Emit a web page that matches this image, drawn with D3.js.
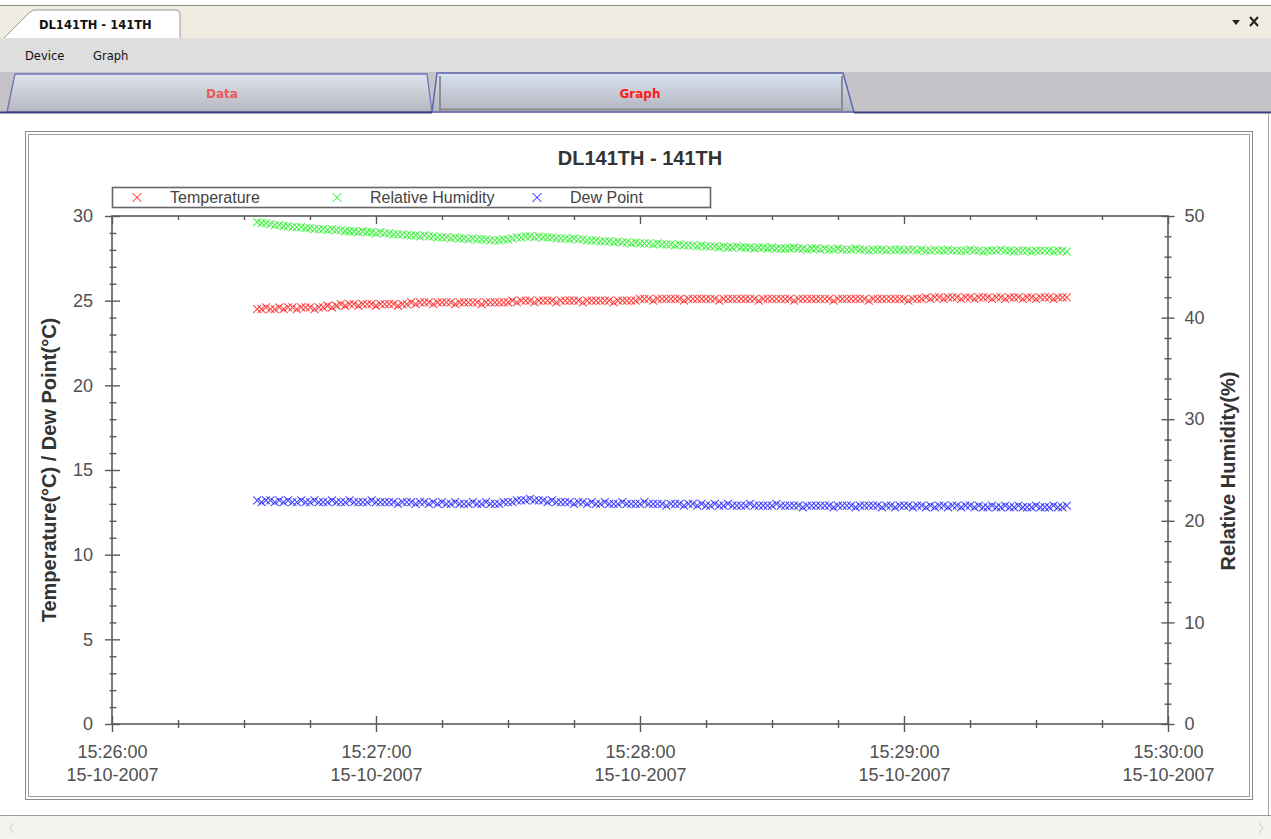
<!DOCTYPE html>
<html><head><meta charset="utf-8">
<script src="https://cdn.jsdelivr.net/npm/d3@7"></script>
<style>html,body{margin:0;padding:0;background:#fff;overflow:hidden}</style>
</head><body><svg id="c" width="1271" height="839"></svg>
<script>
// ---------------- data ----------------
const chartTitle = "DL141TH - 141TH";
const seriesNames = ["Temperature", "Relative Humidity", "Dew Point"];
const seriesColors = ["#ff1010", "#18ec18", "#1010ff"];
const leftAxisTitle = "Temperature(\u00B0C) / Dew Point(\u00B0C)";
const rightAxisTitle = "Relative Humidity(%)";
const leftTicks = [0, 5, 10, 15, 20, 25, 30];
const rightTicks = [0, 10, 20, 30, 40, 50];
const xTickTimes = ["15:26:00", "15:27:00", "15:28:00", "15:29:00", "15:30:00"];
const logDate = "15-10-2007";
const firstSample = "15:26:33";   // one reading per second
// Temperature (°C), 15:26:33 .. 15:29:37
const temperature = [
 24.5,24.5,24.6,24.5,24.5,24.6,24.5,24.6,24.6,24.5,24.6,24.6,24.6,24.5,24.6,24.6,24.7,24.6,
 24.7,24.8,24.7,24.8,24.8,24.7,24.8,24.8,24.8,24.7,24.8,24.8,24.8,24.8,24.7,24.8,24.8,
 24.9,24.8,24.9,24.9,24.9,24.8,24.9,24.9,24.9,24.9,24.8,24.9,24.9,24.9,24.9,24.9,24.8,24.9,24.9,24.9,24.9,24.9,24.9,
 25.0,24.9,25.0,25.0,25.0,24.9,25.0,25.0,25.0,25.0,24.9,25.0,25.0,25.0,25.0,25.0,24.9,25.0,25.0,25.0,25.0,25.0,25.0,24.9,25.0,25.0,25.0,25.0,25.0,
 25.1,25.1,25.1,25.0,25.1,25.1,25.1,25.1,25.1,25.1,
 25.0,25.1,25.1,25.1,25.1,25.1,25.1,25.1,25.0,25.1,
 25.1,25.1,25.1,25.1,25.1,25.1,25.1,25.0,25.1,25.1,
 25.1,25.1,25.1,25.1,25.1,25.0,25.1,25.1,25.1,25.1,
 25.1,25.1,25.1,25.1,25.0,25.1,25.1,25.1,25.1,25.1,
 25.1,25.1,25.0,25.1,25.1,25.1,25.1,25.1,25.1,25.1,
 25.1,25.0,25.1,25.1,25.1,
 25.2,25.1,25.2,25.2,25.1,25.2,25.2,25.2,25.1,25.2,25.2,25.1,25.2,25.2,25.2,25.1,25.2,
 25.2,25.1,25.2,25.2,25.2,25.1,25.2,25.2,25.1,25.2,25.2,25.2,25.1,25.2,25.2,25.2
];
// Relative humidity (%)
const humidity = [
 49.4,49.3,49.3,49.2,49.1,49.1,49.0,49.0,48.9,48.9,
 48.9,48.8,48.8,48.7,48.7,48.7,48.6,48.7,48.6,48.6,
 48.5,48.5,48.5,48.4,48.5,48.4,48.4,48.3,48.4,48.3,
 48.3,48.2,48.2,48.2,48.1,48.1,48.1,48.0,48.1,48.0,
 48.0,47.9,47.9,47.9,47.8,47.9,47.8,47.8,47.7,47.8,
 47.7,47.7,47.7,47.6,47.6,47.6,47.7,47.7,47.8,47.9,
 47.9,48.0,48.0,47.9,48.0,47.9,47.9,47.9,47.8,47.8,
 47.8,47.7,47.8,47.7,47.7,47.6,47.6,47.6,47.5,47.5,
 47.5,47.4,47.5,47.4,47.4,47.3,47.4,47.3,47.3,47.3,
 47.2,47.3,47.2,47.2,47.2,47.1,47.2,47.1,47.1,47.1,
 47.0,47.1,47.0,47.0,47.0,46.9,47.0,46.9,46.9,47.0,
 46.9,46.9,46.9,46.8,46.9,46.9,46.8,46.9,46.8,46.8,
 46.8,46.8,46.9,46.8,46.8,46.7,46.8,46.8,46.7,46.8,
 46.7,46.7,46.8,46.7,46.7,46.7,46.8,46.7,46.7,46.6,
 46.7,46.7,46.7,46.6,46.7,46.7,46.7,46.6,46.7,46.7,
 46.6,46.7,46.6,46.6,46.7,46.6,46.6,46.7,46.6,46.6,
 46.6,46.6,46.7,46.6,46.6,46.5,46.6,46.6,46.6,46.7,
 46.6,46.6,46.5,46.6,46.6,46.6,46.5,46.6,46.6,46.6,
 46.6,46.5,46.6,46.6,46.5
];
// Dew point (°C)
const dewPoint = [
 13.2,13.1,13.2,13.2,13.1,13.2,13.1,13.2,13.1,13.1,
 13.2,13.1,13.1,13.2,13.1,13.1,13.1,13.2,13.1,13.1,
 13.1,13.2,13.1,13.1,13.1,13.1,13.2,13.1,13.1,13.1,
 13.1,13.1,13.0,13.1,13.1,13.1,13.0,13.1,13.1,13.0,
 13.1,13.0,13.1,13.0,13.0,13.1,13.0,13.0,13.0,13.1,
 13.0,13.0,13.1,13.0,13.0,13.0,13.1,13.1,13.1,13.2,
 13.2,13.2,13.3,13.2,13.2,13.2,13.1,13.2,13.1,13.1,
 13.1,13.1,13.0,13.1,13.1,13.0,13.1,13.0,13.0,13.1,
 13.0,13.0,13.0,13.1,13.0,13.0,13.0,13.0,13.1,13.0,
 13.0,13.0,13.0,12.9,13.0,13.0,13.0,12.9,13.0,13.0,
 12.9,13.0,12.9,12.9,13.0,12.9,12.9,13.0,12.9,12.9,
 12.9,12.9,13.0,12.9,12.9,12.9,12.9,12.9,13.0,12.9,
 12.9,12.9,12.9,12.9,12.8,12.9,12.9,12.9,12.9,12.9,
 12.9,12.8,12.9,12.9,12.9,12.9,12.8,12.9,12.9,12.9,
 12.9,12.9,12.8,12.9,12.9,12.8,12.9,12.9,12.9,12.8,
 12.9,12.9,12.8,12.9,12.8,12.9,12.9,12.8,12.9,12.9,
 12.8,12.9,12.9,12.8,12.9,12.8,12.8,12.9,12.8,12.8,
 12.9,12.8,12.8,12.9,12.8,12.8,12.8,12.9,12.8,12.8,
 12.8,12.9,12.8,12.8,12.9
];

// ---------------- chrome ----------------
const svg = d3.select("#c");
const UI = "'DejaVu Sans', Verdana, sans-serif";
const AR = "'Liberation Sans', Arial, sans-serif";
const defs = svg.append("defs");
function grad(id, c1, c2) {
  const g = defs.append("linearGradient").attr("id", id).attr("x1", 0).attr("y1", 0).attr("x2", 0).attr("y2", 1);
  g.append("stop").attr("offset", "0%").attr("stop-color", c1);
  g.append("stop").attr("offset", "100%").attr("stop-color", c2);
}
grad("gData", "#dfe4ee", "#b6b6be");
grad("gGraph", "#dae3f2", "#b2b4bc");

svg.append("rect").attr("width", 1271).attr("height", 839).attr("fill", "#fff");
// document tab strip
svg.append("rect").attr("x", 0).attr("y", 5).attr("width", 1271).attr("height", 33).attr("fill", "#f0ece1");
svg.append("line").attr("x1", 0).attr("x2", 1271).attr("y1", 5.5).attr("y2", 5.5).attr("stroke", "#8c8c8c");
svg.append("path").attr("d", "M4,38 L30,12 Q32,10 36,10 L176,10 Q180,10 180,14 L180,38")
  .attr("fill", "#fff").attr("stroke", "#9a9a9a");
svg.append("text").attr("x", 39).attr("y", 29).attr("font-family", UI).attr("font-size", 11.5)
  .attr("font-weight", "bold").attr("fill", "#111").text(chartTitle);
svg.append("path").attr("d", "M1232,20 L1240,20 L1236,25 Z").attr("fill", "#222");
svg.append("path").attr("d", "M1250,17 L1258,26 M1258,17 L1250,26").attr("stroke", "#222").attr("stroke-width", 2);
// menu bar
svg.append("rect").attr("x", 0).attr("y", 38).attr("width", 1271).attr("height", 34).attr("fill", "#dedede");
svg.append("text").attr("x", 25).attr("y", 60).attr("font-family", UI).attr("font-size", 11.5).attr("fill", "#111").text("Device");
svg.append("text").attr("x", 93).attr("y", 60).attr("font-family", UI).attr("font-size", 11.5).attr("fill", "#111").text("Graph");
// tab row
svg.append("rect").attr("x", 0).attr("y", 72).attr("width", 1271).attr("height", 41).attr("fill", "#c5c3c7");
svg.append("path").attr("d", "M7,112 L15,74 L427,74 L432,112 Z").attr("fill", "url(#gData)")
  .attr("stroke", "#6f75b8").attr("stroke-width", 1.3);
svg.append("path").attr("d", "M432,112 L437,73 L843,73 L854,112 Z").attr("fill", "url(#gGraph)")
  .attr("stroke", "#5e66b0").attr("stroke-width", 1.5);
svg.append("path").attr("d", "M440,111 L440,76 M440,109.5 L842,109.5 M842,76 L842,111")
  .attr("stroke", "#8d8d8f").attr("stroke-width", 2).attr("fill", "none");
svg.append("line").attr("x1", 0).attr("x2", 432).attr("y1", 112.5).attr("y2", 112.5).attr("stroke", "#3c407a").attr("stroke-width", 2);
svg.append("line").attr("x1", 854).attr("x2", 1271).attr("y1", 112.5).attr("y2", 112.5).attr("stroke", "#3c407a").attr("stroke-width", 2);
svg.append("text").attr("x", 222).attr("y", 98).attr("text-anchor", "middle").attr("font-family", UI)
  .attr("font-size", 12).attr("font-weight", "bold").attr("fill", "#e85a5e").text("Data");
svg.append("text").attr("x", 640).attr("y", 98).attr("text-anchor", "middle").attr("font-family", UI)
  .attr("font-size", 12).attr("font-weight", "bold").attr("fill", "#ff1a1a").text("Graph");
// content borders and scroll bar
svg.append("line").attr("x1", 1268.5).attr("x2", 1268.5).attr("y1", 113).attr("y2", 816).attr("stroke", "#a8a8a8");
svg.append("rect").attr("x", 0).attr("y", 816).attr("width", 1271).attr("height", 23).attr("fill", "#f4f3ee");
svg.append("line").attr("x1", 0).attr("x2", 1271).attr("y1", 815.5).attr("y2", 815.5).attr("stroke", "#9a9a9a");
svg.append("path").attr("d", "M14,823 L10,828 L14,833").attr("stroke", "#c8c8c8").attr("fill", "none");
svg.append("path").attr("d", "M1259,823 L1263,828 L1259,833").attr("stroke", "#c8c8c8").attr("fill", "none");
// chart panel (double border)
svg.append("rect").attr("x", 25.5).attr("y", 131.5).attr("width", 1227).attr("height", 668)
  .attr("fill", "#fff").attr("stroke", "#8a8a8a");
svg.append("rect").attr("x", 28.5).attr("y", 134.5).attr("width", 1221).attr("height", 662)
  .attr("fill", "none").attr("stroke", "#9c9c9c");

// ---------------- chart ----------------
const parseT = d3.timeParse("%d-%m-%Y %H:%M:%S");
const t0 = parseT(logDate + " " + firstSample);
const times = temperature.map((_, i) => d3.timeSecond.offset(t0, i));
const xTicks = xTickTimes.map(s => parseT(logDate + " " + s));

const L = 112, R = 1168, T = 216, B = 724;
const x = d3.scaleTime().domain([xTicks[0], xTicks[xTicks.length - 1]]).range([L, R]);
const yL = d3.scaleLinear().domain([0, 30]).range([B, T]);
const yR = d3.scaleLinear().domain([0, 50]).range([B, T]);

const g = svg.append("g");
const axisColor = "#5a5a5a";
function styleAxis(sel) {
  sel.select(".domain").remove();
  sel.selectAll(".tick line").attr("stroke", axisColor).attr("stroke-width", 1.4);
  sel.selectAll("text").attr("font-family", AR).attr("font-size", 18).attr("fill", "#505050");
}
// left axis
const minorL = d3.range(0, 31, 1).filter(v => v % 5 !== 0);
g.append("g").attr("transform", `translate(${L},0)`)
  .call(d3.axisLeft(yL).tickValues(minorL).tickSize(2.5).tickFormat(""))
  .call(styleAxis).selectAll(".tick line").attr("x1", 4.5);
g.append("g").attr("transform", `translate(${L},0)`)
  .call(d3.axisLeft(yL).tickValues(leftTicks).tickSize(7).tickPadding(12))
  .call(styleAxis).selectAll(".tick line").attr("x1", 8);
// right axis
const minorR = d3.range(0, 51, 2).filter(v => v % 10 !== 0);
g.append("g").attr("transform", `translate(${R},0)`)
  .call(d3.axisRight(yR).tickValues(minorR).tickSize(3.5).tickFormat(""))
  .call(styleAxis).selectAll(".tick line").attr("x1", -3.5);
g.append("g").attr("transform", `translate(${R},0)`)
  .call(d3.axisRight(yR).tickValues(rightTicks).tickSize(6.5).tickPadding(10))
  .call(styleAxis).selectAll(".tick line").attr("x1", -6.5);
// bottom axis
const minorX = d3.timeSecond.every(15).range(xTicks[0], d3.timeSecond.offset(xTicks[xTicks.length - 1], 1))
  .filter(d => d.getSeconds() !== 0);
g.append("g").attr("transform", `translate(0,${B})`)
  .call(d3.axisBottom(x).tickValues(minorX).tickSize(4).tickFormat(""))
  .call(styleAxis).selectAll(".tick line").attr("y1", -4);
const bx = g.append("g").attr("transform", `translate(0,${B})`)
  .call(d3.axisBottom(x).tickValues(xTicks).tickSize(8).tickFormat(""))
  .call(styleAxis);
bx.selectAll(".tick line").attr("y1", -8);
bx.selectAll(".tick text").attr("y", 34).attr("dy", null).each(function (d) {
  const t = d3.select(this);
  t.append("tspan").attr("x", 0).text(d3.timeFormat("%H:%M:%S")(d));
  t.append("tspan").attr("x", 0).attr("dy", 23).text(d3.timeFormat("%d-%m-%Y")(d));
});
// top axis (ticks inside)
g.append("g").attr("transform", `translate(0,${T})`)
  .call(d3.axisBottom(x).tickValues(minorX).tickSize(4).tickFormat("")).call(styleAxis);
g.append("g").attr("transform", `translate(0,${T})`)
  .call(d3.axisBottom(x).tickValues(xTicks).tickSize(8).tickFormat("")).call(styleAxis);
// frame
g.append("rect").attr("x", L).attr("y", T).attr("width", R - L).attr("height", B - T)
  .attr("fill", "none").attr("stroke", axisColor).attr("stroke-width", 1.6);

// axis titles
g.append("text").attr("transform", `translate(56,470) rotate(-90)`).attr("text-anchor", "middle")
  .attr("font-family", AR).attr("font-size", 20).attr("font-weight", "bold").attr("fill", "#333").text(leftAxisTitle);
g.append("text").attr("transform", `translate(1235,471) rotate(-90)`).attr("text-anchor", "middle")
  .attr("font-family", AR).attr("font-size", 20).attr("font-weight", "bold").attr("fill", "#333").text(rightAxisTitle);
// title
g.append("text").attr("x", 640).attr("y", 165).attr("text-anchor", "middle").attr("font-family", AR)
  .attr("font-size", 20).attr("font-weight", "bold").attr("fill", "#333").text(chartTitle);

// markers
const cross = r => `M${-r},${-r}L${r},${r}M${r},${-r}L${-r},${r}`;
const series = [
  { vals: temperature, y: yL },
  { vals: humidity, y: yR },
  { vals: dewPoint, y: yL }
];
series.forEach((s, si) => {
  g.append("g").selectAll("path").data(s.vals).join("path")
    .attr("d", cross(4))
    .attr("transform", (d, i) => `translate(${x(times[i])},${s.y(d)})`)
    .attr("stroke", seriesColors[si]).attr("stroke-width", 1.1).attr("fill", "none")
    .attr("stroke-opacity", 0.75);
});

// legend
const lg = g.append("g");
lg.append("rect").attr("x", 112.5).attr("y", 187.5).attr("width", 598).attr("height", 20)
  .attr("fill", "#fff").attr("stroke", "#666").attr("stroke-width", 1.6);
seriesNames.forEach((n, i) => {
  lg.append("path").attr("d", cross(4.5)).attr("transform", `translate(${137 + i * 200},197.5)`)
    .attr("stroke", seriesColors[i]).attr("stroke-width", 1).attr("fill", "none");
  lg.append("text").attr("x", 170 + i * 200).attr("y", 203).attr("font-family", AR).attr("font-size", 16)
    .attr("fill", "#444").text(n);
});
</script></body></html>
